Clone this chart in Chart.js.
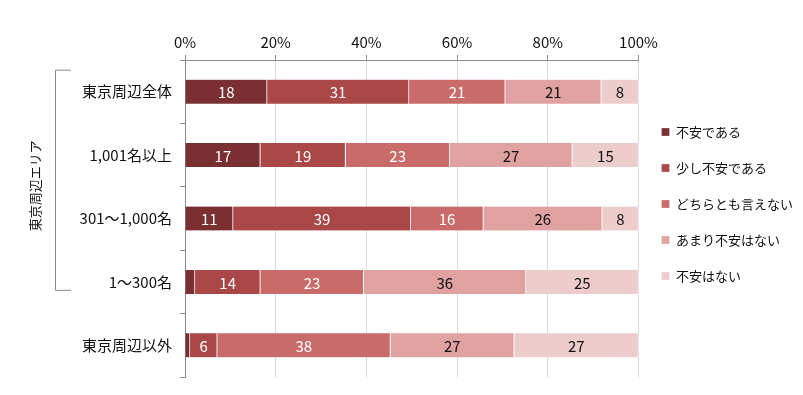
<!DOCTYPE html>
<html>
<head>
<meta charset="utf-8">
<script src="https://cdn.jsdelivr.net/npm/chart.js@4/dist/chart.umd.min.js"></script>
<style>
  body { margin: 0; background: #fff; }
  #wrap { width: 803px; height: 395px; }
</style>
</head>
<body>
<div id="wrap"><canvas id="myChart" width="803" height="395"></canvas></div>
<script>
// categories (rows, top to bottom)
var categories = ["東京周辺全体", "1,001名以上", "301～1,000名", "1～300名", "東京周辺以外"];
// answer series
var seriesNames = ["不安である", "少し不安である", "どちらとも言えない", "あまり不安はない", "不安はない"];
// values (%)
var fuanDearu   = [18.1, 16.6, 10.6, 2.2, 1.1];
var sukoshiFuan = [31.3, 18.8, 39.2, 14.4, 6.0];
var dochiraTomo = [21.2, 23.0, 16.0, 22.8, 38.2];
var amariFuan   = [21.2, 27.0, 26.2, 35.8, 27.3];
var fuanWaNai   = [8.2, 14.6, 8.0, 24.8, 27.4];
var tickLabels = ["0%", "20%", "40%", "60%", "80%", "100%"];
var groupLabel = "東京周辺エリア";

var colors = ["#7a3030", "#aa4747", "#c96b69", "#e0a2a1", "#edcdcc"];
var labelColors = ["#fff", "#fff", "#fff", "#111", "#111"];
var FONT = "'Noto Sans CJK JP', 'Noto Sans', sans-serif";

var allValues = [fuanDearu, sukoshiFuan, dochiraTomo, amariFuan, fuanWaNai];
var datasets = [];
for (var i = 0; i < seriesNames.length; i++) {
  datasets.push({
    label: seriesNames[i],
    data: allValues[i],
    backgroundColor: colors[i],
    borderColor: "#fff",
    borderWidth: { top: 0, right: 1, bottom: 0, left: 0 },
    borderSkipped: false,
    barThickness: 24
  });
}

// numbers inside the segments
var valueLabels = {
  id: "valueLabels",
  afterDatasetsDraw: function (chart) {
    var ctx = chart.ctx;
    ctx.save();
    ctx.font = "15px " + FONT;
    ctx.textAlign = "center";
    ctx.textBaseline = "middle";
    chart.data.datasets.forEach(function (ds, di) {
      var meta = chart.getDatasetMeta(di);
      meta.data.forEach(function (bar, j) {
        var v = ds.data[j];
        if (v < 3) return;
        var p = bar.getProps(["x", "y", "base"], true);
        ctx.fillStyle = labelColors[di];
        ctx.fillText(Math.round(v), (p.x + p.base) / 2, p.y + 1);
      });
    });
    ctx.restore();
  }
};

// bracket + vertical group label on the left
var groupBracket = {
  id: "groupBracket",
  afterDraw: function (chart) {
    var ctx = chart.ctx;
    var y = chart.scales.y;
    var top = y.getPixelForValue(0) - 22;
    var bottom = y.getPixelForValue(3) + 8;
    ctx.save();
    ctx.strokeStyle = "#8c8c8c";
    ctx.lineWidth = 1;
    ctx.beginPath();
    ctx.moveTo(71, top + 0.5);
    ctx.lineTo(55.5, top + 0.5);
    ctx.lineTo(55.5, bottom + 0.5);
    ctx.lineTo(71, bottom + 0.5);
    ctx.stroke();
    ctx.translate(35, (top + bottom) / 2 + 6);
    ctx.rotate(-Math.PI / 2);
    ctx.font = "13px " + FONT;
    ctx.fillStyle = "#111";
    ctx.textAlign = "center";
    ctx.textBaseline = "middle";
    ctx.fillText(groupLabel, 0, 0);
    ctx.restore();
  }
};

var ctx = document.getElementById("myChart");
var myChart = new Chart(ctx, {
  type: "bar",
  data: { labels: categories, datasets: datasets },
  plugins: [valueLabels, groupBracket],
  options: {
    indexAxis: "y",
    responsive: false,
    animation: false,
    layout: { padding: { top: 31, bottom: 18, left: 0, right: 0 } },
    scales: {
      x: {
        position: "top",
        stacked: true,
        min: 0,
        max: 100,
        afterFit: function (scale) { scale.height = 29; },
        afterBuildTicks: function (scale) {
          scale.ticks = tickLabels.map(function (t, k) { return { value: k * 20 }; });
        },
        ticks: {
          padding: 4,
          color: "#111",
          font: { family: FONT, size: 15 },
          callback: function (v, k) { return tickLabels[k]; }
        },
        grid: { color: "#d9d9d9", tickColor: "#8c8c8c", tickLength: 5 },
        border: { color: "#8c8c8c" }
      },
      y: {
        stacked: true,
        afterFit: function (scale) { scale.width = 185; },
        ticks: {
          padding: 8,
          color: "#111",
          font: { family: FONT, size: 15 }
        },
        grid: { offset: true, drawOnChartArea: false, tickColor: "#8c8c8c", tickLength: 5 },
        border: { color: "#8c8c8c" }
      }
    },
    plugins: {
      tooltip: { enabled: false },
      legend: {
        position: "right",
        labels: {
          boxWidth: 8,
          boxHeight: 8,
          padding: 23,
          color: "#111",
          font: { family: FONT, size: 13 }
        }
      }
    }
  }
});

// legend keeps a fixed width so the plot ends at 100% like the original
var legendFit = myChart.legend.fit;
myChart.legend.fit = function () {
  legendFit.call(this);
  this.width = 164.5;
};
myChart.update();
</script>
</body>
</html>
